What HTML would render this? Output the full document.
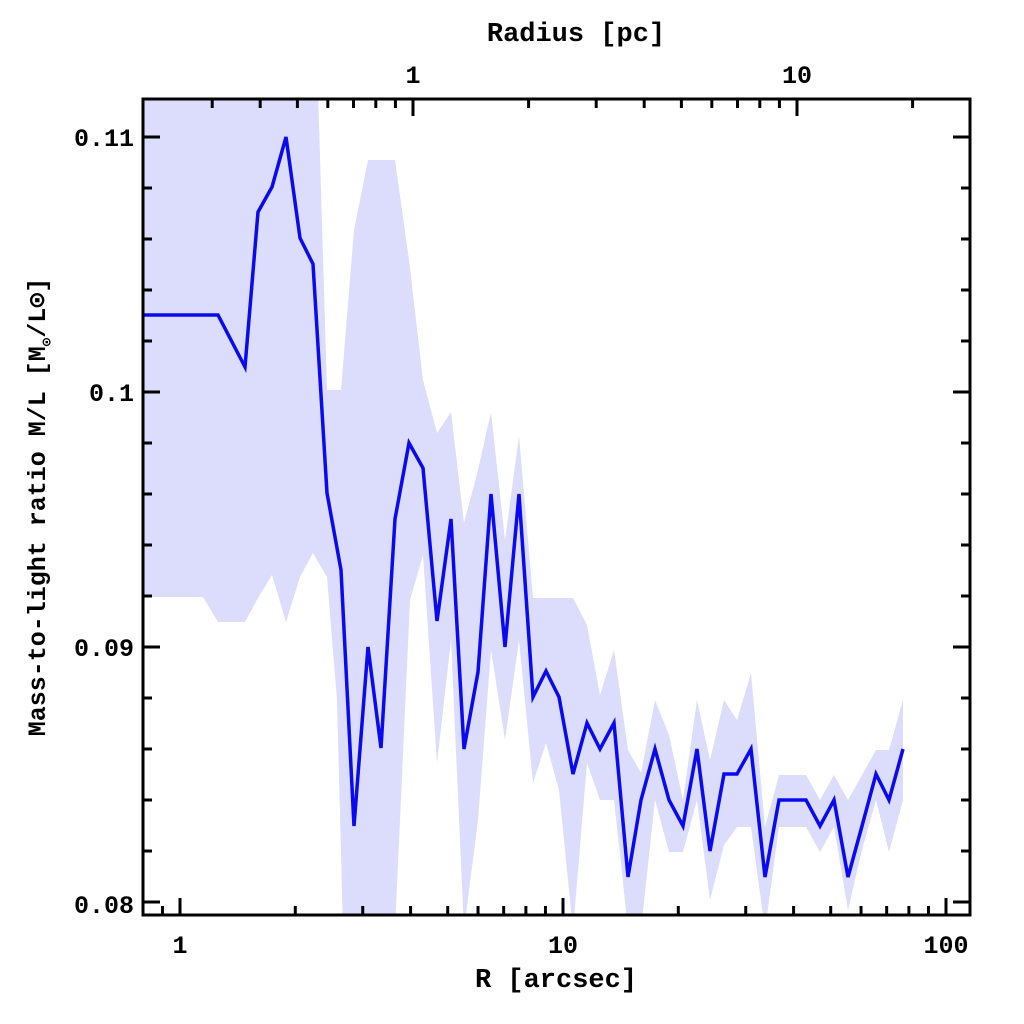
<!DOCTYPE html>
<html><head><meta charset="utf-8"><style>
html,body{margin:0;padding:0;background:#fff;}
svg{display:block;font-family:"Liberation Mono","DejaVu Sans Mono",monospace;font-weight:bold;}
</style></head><body>
<svg id="s" width="1024" height="1024" viewBox="0 0 1024 1024" xmlns="http://www.w3.org/2000/svg">
<defs><clipPath id="c"><rect x="143" y="99" width="827" height="816"/></clipPath></defs>
<g clip-path="url(#c)">
<polygon id="band" fill="#dcdcfc" stroke="none"/>
<polyline id="line" fill="none" stroke="#0a0af0" stroke-width="3.5" stroke-linejoin="miter"/>
</g>
<g id="ticks" stroke="#000" stroke-width="3"></g>
<rect x="143" y="99" width="827" height="816" fill="none" stroke="#000" stroke-width="3"/>
<g font-size="25" fill="#000" text-anchor="end">
<text x="134" y="146">0.11</text>
<text x="134" y="401">0.1</text>
<text x="134" y="656">0.09</text>
<text x="134" y="913">0.08</text>
</g>
<g font-size="25" fill="#000" text-anchor="middle">
<text x="180" y="953">1</text>
<text x="563" y="953">10</text>
<text x="946" y="953">100</text>
<text x="413" y="83">1</text>
<text x="797" y="83">10</text>
<text x="556" y="987" font-size="27">R [arcsec]</text>
<text x="576" y="41" font-size="27">Radius [pc]</text>
<text transform="translate(45,507) rotate(-90)" font-size="25">Mass-to-light ratio M/L [M<tspan font-size="14" dy="6">⊙</tspan><tspan dy="-6">/L⊙]</tspan></text>
</g>
</svg>
<script>
var L=[[143,315],[218,315],[245,367],[258,212],[272,187],[286,137],[300,238],[313,264],[327,493],[341,570],[354,826],[368,647],[381,748],[395,519],[409,443],[423,468],[437,621],[451,519],[464,749],[478,672],[491,494],[505,647],[519,494],[533,697],[546,671],[559,697],[573,774],[587,723],[600,749],[614,723],[628,877],[641,800],[655,749],[669,800],[683,826],[697,749],[710,851],[724,774],[737,774],[751,749],[765,877],[779,800],[792,800],[806,800],[820,826],[834,800],[848,877],[862,826],[876,774],[889,800],[903,749]];
var U=[[143,90],[318,90],[327,390],[341,390],[354,230],[368,160],[395,160],[409,260],[423,380],[437,433],[451,412],[464,523],[478,470],[491,412],[505,540],[519,436],[533,598],[573,598],[587,625],[600,695],[614,650],[628,750],[641,773],[655,700],[669,735],[683,800],[697,700],[710,760],[724,700],[737,720],[751,673],[765,827],[779,775],[806,775],[820,800],[834,775],[848,800],[862,775],[876,750],[889,750],[903,700]];
var D=[[143,597],[203,597],[218,622],[245,622],[258,598],[272,575],[286,622],[300,577],[313,553],[327,577],[337,700],[343,930],[395,930],[410,600],[423,555],[437,763],[451,640],[464,930],[478,820],[491,650],[505,740],[519,640],[533,783],[546,743],[559,790],[573,930],[587,763],[600,800],[614,800],[621,863],[628,930],[641,930],[655,800],[669,852],[683,852],[697,800],[710,900],[724,845],[737,827],[751,827],[765,930],[779,827],[806,827],[820,852],[834,827],[848,910],[862,850],[876,800],[889,852],[903,800]];
function s(a){return a.map(function(p){return p.join(',')}).join(' ');}
document.getElementById('line').setAttribute('points',s(L));
document.getElementById('band').setAttribute('points',s(U.concat(D.slice().reverse())));
var g=document.getElementById('ticks'),h='';
function ln(x1,y1,x2,y2){h+='<line x1="'+x1+'" y1="'+y1+'" x2="'+x2+'" y2="'+y2+'"/>';}
for(var d=-1;d<=2;d++)for(var m=1;m<10;m++){var x=180+383*(d+Math.log10(m));if(x<145||x>968)continue;var l=m==1?17:9;ln(x,915,x,915-l);}
for(var d=-1;d<=1;d++)for(var m=1;m<10;m++){var x=413+384*(d+Math.log10(m));if(x<145||x>968)continue;var l=m==1?17:9;ln(x,99,x,99+l);}
for(var i=0;i<=16;i++){var v=0.08+0.002*i;var y=902-(v-0.08)*25500;if(y<100||y>914)continue;var l=(i%5==0)?17:9;ln(143,y,143+l,y);ln(970,y,970-l,y);}
g.innerHTML=h;
</script>
</body></html>
